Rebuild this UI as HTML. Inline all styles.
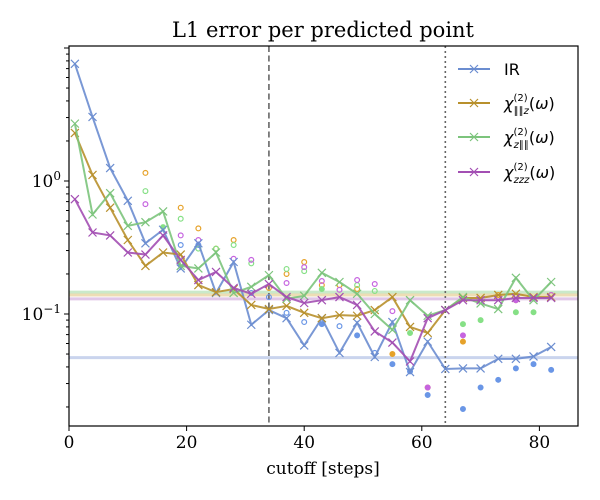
<!DOCTYPE html>
<html><head><meta charset="utf-8"><style>
body{margin:0;background:#fff;}
svg{display:block;font-family:"DejaVu Serif","Liberation Serif",serif;}
</style></head><body>
<svg id="chart" width="600" height="500"></svg>
<script>
const xs=[1,4,7,10,13,16,19,22,25,28,31,34,37,40,43,46,49,52,55,58,61,64,67,70,73,76,79,82];
const irVals=[7.6,3.03,1.25,0.71,0.34,0.43,0.22,0.34,0.144,0.246,0.083,0.107,0.093,0.058,0.093,0.051,0.086,0.0475,0.087,0.0366,0.062,0.0386,0.039,0.039,0.046,0.046,0.048,0.0565];
const parzVals=[2.3,1.11,0.63,0.36,0.23,0.29,0.28,0.165,0.146,0.154,0.117,0.109,0.115,0.102,0.093,0.098,0.097,0.107,0.134,0.08,0.072,0.107,0.132,0.132,0.139,0.142,0.134,0.134];
const zparVals=[2.7,0.56,0.81,0.46,0.49,0.59,0.23,0.22,0.29,0.144,0.16,0.196,0.13,0.137,0.204,0.174,0.142,0.1,0.076,0.127,0.097,0.107,0.134,0.12,0.109,0.187,0.127,0.174];
const zzzVals=[0.73,0.41,0.39,0.29,0.28,0.39,0.255,0.18,0.207,0.157,0.142,0.168,0.134,0.121,0.127,0.134,0.117,0.074,0.061,0.044,0.093,0.107,0.127,0.127,0.127,0.132,0.132,0.132];
const hLines=[0.146,0.139,0.13,0.047];
// scatter points [x, value, filled]
const irPts=[[19,0.33,0],[22,0.33,0],[31,0.144,0],[34,0.134,0],[37,0.102,0],[40,0.087,0],[43,0.084,1],[46,0.081,0],[49,0.069,1],[52,0.051,0],[55,0.042,1],[58,0.037,1],[61,0.0246,1],[67,0.0193,1],[70,0.028,1],[73,0.032,1],[76,0.039,1],[79,0.042,1],[82,0.038,1]];
const parzPts=[[13,1.15,0],[19,0.63,0],[22,0.44,0],[25,0.31,0],[28,0.36,0],[34,0.157,0],[37,0.2,0],[40,0.246,0],[43,0.165,0],[46,0.165,0],[49,0.154,0],[55,0.05,1],[61,0.028,1],[67,0.062,1],[73,0.139,0],[76,0.127,1],[82,0.139,0]];
const zparPts=[[13,0.84,0],[16,0.45,1],[19,0.52,0],[22,0.31,0],[25,0.31,0],[28,0.33,0],[31,0.24,0],[37,0.218,0],[40,0.21,0],[43,0.154,1],[49,0.165,0],[52,0.149,0],[58,0.072,1],[67,0.084,1],[70,0.09,1],[76,0.103,1],[79,0.103,1]];
const zzzPts=[[13,0.67,0],[19,0.39,0],[22,0.36,0],[28,0.26,0],[31,0.255,0],[37,0.171,0],[40,0.225,0],[43,0.177,0],[46,0.152,0],[49,0.18,0],[52,0.168,0],[55,0.105,0],[61,0.028,1],[67,0.069,1],[73,0.134,0],[76,0.127,1],[82,0.139,0]];
const xTicks=[0,20,40,60,80];
const vLines=[34,64];

const NS="http://www.w3.org/2000/svg";
const svg=document.getElementById('chart');
const L=69,R=578,T=46,B=426;
const X=v=>69+(v)*5.88;
const Y=v=>181-133*Math.log10(v);
function el(t,a,p){const e=document.createElementNS(NS,t);for(const k in a)e.setAttribute(k,a[k]);(p||svg).appendChild(e);return e;}
const defs=el('defs',{});const cp=el('clipPath',{id:'cp'},defs);el('rect',{x:L,y:T,width:R-L,height:B-T},cp);
const plot=el('g',{'clip-path':'url(#cp)'});



const lineCols=['#6b8dd0','#b8902c','#7cc47c','#a34fb3'];
const ptCols=['#6a96e6','#e6a22a','#86e086','#c664e0'];
const hCols=['#9fd89f','#e0c27a','#c89ad6','#9fb2e0'];
hLines.forEach((v,i)=>{const l=el('line',{x1:L,x2:R,y1:Y(v),y2:Y(v),stroke:hCols[i],'stroke-width':3,opacity:0.55},plot);

});
vLines.forEach((v,i)=>{const l=el('line',{x1:X(v),x2:X(v),y1:T,y2:B,stroke:'#666','stroke-width':1.6,'stroke-dasharray':i==0?'6,3.5':'2,3'},plot);

});
const ptSets=[irPts,parzPts,zparPts,zzzPts];
ptSets.forEach((s,i)=>s.forEach(p=>{const c=el('circle',{cx:X(p[0]),cy:Y(p[1]),r:2.4,fill:p[2]?ptCols[i]:'none',stroke:ptCols[i],'stroke-width':1.2},plot);

}));
const series=[irVals,parzVals,zparVals,zzzVals];
const names=['ir','chi-parallel-z','chi-z-parallel','chi-zzz'];
function cross(g,x,y,col){el('path',{d:`M${x-4},${y-4}L${x+4},${y+4}M${x-4},${y+4}L${x+4},${y-4}`,stroke:col,'stroke-width':1.2,fill:'none'},g);}
series.forEach((s,i)=>{const g=el('g',{},plot);


el('polyline',{points:s.map((v,j)=>X(xs[j])+','+Y(v)).join(' '),fill:'none',stroke:lineCols[i],'stroke-width':2,opacity:0.9},g);
s.forEach((v,j)=>cross(g,X(xs[j]),Y(v),lineCols[i]));});

el('rect',{x:L,y:T,width:R-L,height:B-T,fill:'none',stroke:'#000','stroke-width':1.2});
// x ticks
xTicks.forEach(t=>{el('line',{x1:X(t),x2:X(t),y1:B,y2:B+5,stroke:'#000'});
const tx=el('text',{x:X(t),y:B+22,'text-anchor':'middle','font-size':17});tx.textContent=t;

});
// y ticks
for(let d=-3;d<=1;d++){for(let m=1;m<10;m++){const v=m*Math.pow(10,d);const y=Y(v);if(y<T||y>B)continue;
el('line',{x1:L-(m==1?5:3),x2:L,y1:y,y2:y,stroke:'#000'});}}
[[0,'10','0'],[-1,'10','−1']].forEach(a=>{const t=el('text',{x:L-8,y:Y(Math.pow(10,a[0]))+6,'text-anchor':'end','font-size':17});
t.innerHTML=a[1]+'<tspan dy="-7" font-size="12">'+a[2]+'</tspan>';

});
const title=el('text',{x:323,y:37,'text-anchor':'middle','font-size':21});title.textContent='L1 error per predicted point';


const xl=el('text',{x:323,y:474,'text-anchor':'middle','font-size':17});xl.textContent='cutoff [steps]';


// legend
const lg=el('g',{});


const labs=['IR','<tspan font-style="italic">χ</tspan><tspan dy="-8" font-size="10">(2)</tspan><tspan dx="-14" dy="13" font-size="10" font-style="italic">∥∥z</tspan><tspan dy="-5">(<tspan font-style="italic">ω</tspan>)</tspan>',
'<tspan font-style="italic">χ</tspan><tspan dy="-8" font-size="10">(2)</tspan><tspan dx="-14" dy="13" font-size="10" font-style="italic">z∥∥</tspan><tspan dy="-5">(<tspan font-style="italic">ω</tspan>)</tspan>',
'<tspan font-style="italic">χ</tspan><tspan dy="-8" font-size="10">(2)</tspan><tspan dx="-14" dy="13" font-size="10" font-style="italic">zzz</tspan><tspan dy="-5">(<tspan font-style="italic">ω</tspan>)</tspan>'];
[69,103,137,172].forEach((y,i)=>{const g=el('g',{},lg);


el('line',{x1:458,x2:490,y1:y,y2:y,stroke:lineCols[i],'stroke-width':2},g);cross(g,474,y,lineCols[i]);
const t=el('text',{x:504,y:y+6,'font-size':16,'font-family':'DejaVu Sans, sans-serif'},g);t.innerHTML=labs[i];});
</script>
</body></html>
